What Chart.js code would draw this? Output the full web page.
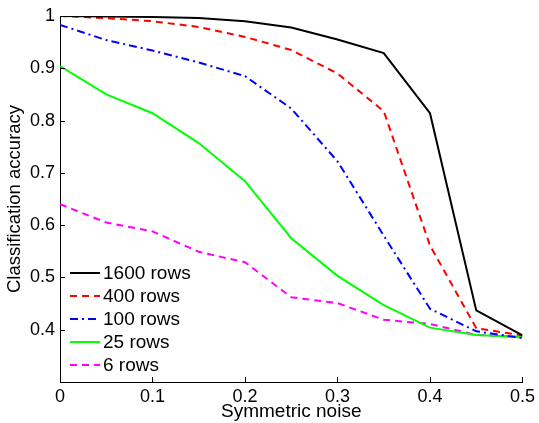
<!DOCTYPE html>
<html>
<head>
<meta charset="utf-8">
<script src="https://cdn.jsdelivr.net/npm/chart.js@4.4.0/dist/chart.umd.min.js"></script>
<style>
  html, body { margin: 0; padding: 0; background: #fff; }
  #wrap { width: 539px; height: 423px; }
</style>
</head>
<body>
<div id="wrap"><canvas id="myChart" width="539" height="423"></canvas></div>
<script>
// noise levels on the x axis
const noise = [0, 0.05, 0.1, 0.15, 0.2, 0.25, 0.3, 0.35, 0.4, 0.45, 0.5];

// accuracy per training size
const rows1600 = [1.0, 0.999, 0.998, 0.996, 0.990, 0.978, 0.955, 0.929, 0.814, 0.437, 0.389];
const rows400 = [1.0, 0.996, 0.990, 0.979, 0.960, 0.935, 0.890, 0.818, 0.561, 0.403, 0.389];
const rows100 = [0.983, 0.954, 0.934, 0.911, 0.885, 0.823, 0.722, 0.580, 0.440, 0.397, 0.384];
const rows25 = [0.904, 0.850, 0.814, 0.757, 0.684, 0.575, 0.503, 0.447, 0.404, 0.390, 0.386];
const rows6 = [0.640, 0.605, 0.588, 0.549, 0.529, 0.462, 0.451, 0.419, 0.411, 0.390, 0.386];

const seriesLabels = ["1600 rows", "400 rows", "100 rows", "25 rows", "6 rows"];
const xTicks = [0, 0.1, 0.2, 0.3, 0.4, 0.5];
const yTicks = [0.4, 0.5, 0.6, 0.7, 0.8, 0.9, 1];

const font = "'Liberation Sans', Arial, sans-serif";

function toPoints(vals) {
  return vals.map((v, i) => ({ x: noise[i], y: v }));
}

function makeSet(label, vals, color, dash) {
  return {
    label: label,
    data: toPoints(vals),
    borderColor: color,
    backgroundColor: color,
    borderWidth: 2,
    borderDash: dash,
    pointRadius: 0,
    tension: 0,
    fill: false,
  };
}

// legend drawn inside the plot, lower left, like the original figure
const innerLegend = {
  id: "innerLegend",
  afterDatasetsDraw(chart) {
    const { ctx, chartArea } = chart;
    const x0 = chartArea.left + 10;
    let y = chartArea.bottom - 109;
    ctx.save();
    ctx.font = "19px " + font;
    ctx.textBaseline = "middle";
    chart.data.datasets.forEach((ds) => {
      ctx.strokeStyle = ds.borderColor;
      ctx.lineWidth = 2;
      ctx.setLineDash(ds.borderDash || []);
      ctx.beginPath();
      ctx.moveTo(x0, y);
      ctx.lineTo(x0 + 30, y);
      ctx.stroke();
      ctx.setLineDash([]);
      ctx.fillStyle = "#000";
      ctx.fillText(ds.label, x0 + 33, y + 1);
      y += 23;
    });
    ctx.restore();
  },
};

// matlab style ticks pointing into the plot
const innerTicks = {
  id: "innerTicks",
  afterDraw(chart) {
    const { ctx, chartArea, scales } = chart;
    ctx.save();
    ctx.strokeStyle = "#000";
    ctx.lineWidth = 1;
    ctx.beginPath();
    xTicks.forEach((t) => {
      const px = Math.round(scales.x.getPixelForValue(t)) + 0.5;
      ctx.moveTo(px, chartArea.bottom);
      ctx.lineTo(px, chartArea.bottom - 5);
    });
    yTicks.forEach((t) => {
      const py = Math.round(scales.y.getPixelForValue(t)) + 0.5;
      ctx.moveTo(chartArea.left, py);
      ctx.lineTo(chartArea.left + 5, py);
    });
    ctx.stroke();
    ctx.restore();
  },
};

var ctx = document.getElementById("myChart").getContext("2d");
var chart = new Chart(ctx, {
  type: "line",
  data: {
    datasets: [
      makeSet(seriesLabels[0], rows1600, "#000000", []),
      makeSet(seriesLabels[1], rows400, "#ff0000", [7, 5]),
      makeSet(seriesLabels[2], rows100, "#0000ff", [8, 4, 2, 4]),
      makeSet(seriesLabels[3], rows25, "#00ff00", []),
      makeSet(seriesLabels[4], rows6, "#ff00ff", [7, 5]),
    ],
  },
  options: {
    responsive: false,
    animation: false,
    layout: { padding: { top: 16, right: 15, left: 0, bottom: 0 } },
    plugins: {
      legend: { display: false },
      tooltip: { enabled: false },
    },
    scales: {
      x: {
        type: "linear",
        min: 0,
        max: 0.5,
        afterBuildTicks: (scale) => {
          scale.ticks = xTicks.map((v) => ({ value: v }));
        },
        afterFit: (scale) => {
          scale.height = 41;
        },
        grid: { display: false, drawTicks: false },
        border: { display: true, color: "#000", width: 1 },
        ticks: {
          color: "#000",
          font: { family: font, size: 18 },
          padding: 4,
          maxRotation: 0,
          callback: (v) => String(v),
        },
        title: {
          display: true,
          text: "Symmetric noise",
          color: "#000",
          font: { family: font, size: 19 },
          padding: { top: 0, bottom: 0 },
        },
      },
      y: {
        type: "linear",
        min: 0.3,
        max: 1,
        afterBuildTicks: (scale) => {
          scale.ticks = yTicks.map((v) => ({ value: v }));
        },
        afterFit: (scale) => {
          scale.width = 60;
        },
        grid: { display: false, drawTicks: false },
        border: { display: true, color: "#000", width: 1 },
        ticks: {
          color: "#000",
          font: { family: font, size: 18 },
          padding: 5,
          callback: (v) => String(v),
        },
        title: {
          display: true,
          text: "Classification accuracy",
          color: "#000",
          font: { family: font, size: 18.5 },
          padding: { top: 4, bottom: 0 },
        },
      },
    },
  },
  plugins: [innerLegend, innerTicks],
});
</script>
</body>
</html>
